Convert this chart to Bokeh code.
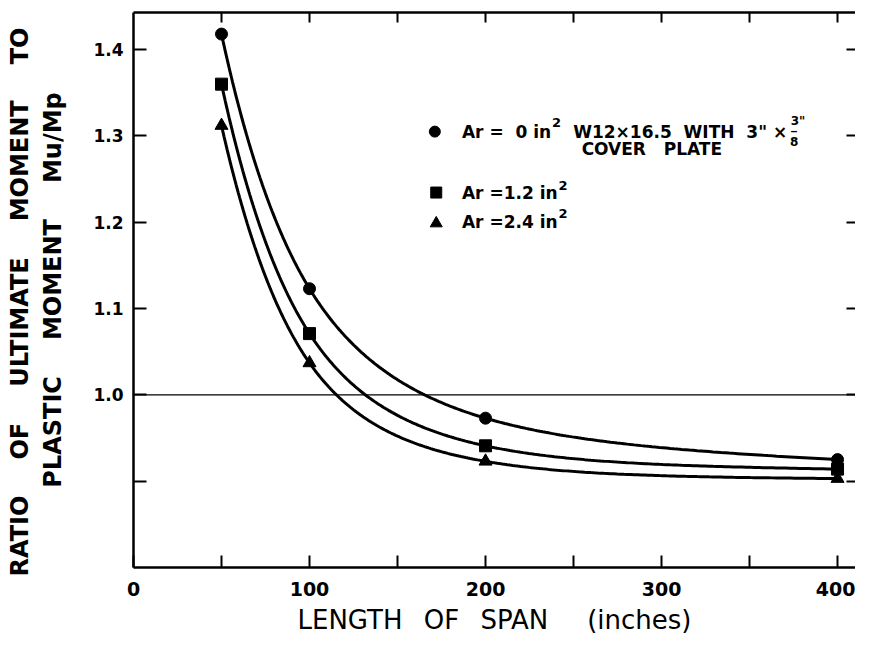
import numpy as np
from bokeh.plotting import figure
from bokeh.models import Range1d, FixedTicker, LinearAxis, Span, Label, NumeralTickFormatter
from bokeh.embed import file_html
from bokeh.resources import INLINE

# ---- data ----
span_in = [50, 100, 200, 400]
ratio_ar0 = [1.418, 1.123, 0.973, 0.925]
ratio_ar12 = [1.360, 1.071, 0.941, 0.914]
ratio_ar24 = [1.312, 1.037, 0.923, 0.903]

x_ticks = [0, 50, 100, 150, 200, 250, 300, 350, 400]
x_tick_labels = {50: "", 150: "", 250: "", 350: ""}
y_ticks = [0.9, 1.0, 1.1, 1.2, 1.3, 1.4]
y_tick_labels = {0.9: ""}

FONT = "DejaVu Sans"
BLACK = "#000000"
EN = "\u2002"
NB = "\u00a0"

x_title = "LENGTH" + EN + NB + "OF" + EN + NB + "SPAN" + EN * 3 + "(inches)"
y_title = ("RATIO" + EN * 3 + "OF" + EN * 3 + "ULTIMATE" + EN * 3 + "MOMENT" + EN * 3 + "TO" + EN * 2
           + "\n" + "PLASTIC" + EN * 3 + "MOMENT" + EN * 3 + "Mu/Mp")


def natural_spline(xs, ys, xq):
    xs = np.asarray(xs, float)
    ys = np.asarray(ys, float)
    n = len(xs)
    h = np.diff(xs)
    A = np.zeros((n, n))
    r = np.zeros(n)
    A[0, 0] = 1.0
    A[-1, -1] = 1.0
    for i in range(1, n - 1):
        A[i, i - 1] = h[i - 1]
        A[i, i] = 2 * (h[i - 1] + h[i])
        A[i, i + 1] = h[i]
        r[i] = 6 * ((ys[i + 1] - ys[i]) / h[i] - (ys[i] - ys[i - 1]) / h[i - 1])
    M = np.linalg.solve(A, r)
    idx = np.clip(np.searchsorted(xs, xq) - 1, 0, n - 2)
    x0 = xs[idx]
    x1 = xs[idx + 1]
    hh = x1 - x0
    t0 = x1 - xq
    t1 = xq - x0
    return (M[idx] * t0 ** 3 / (6 * hh) + M[idx + 1] * t1 ** 3 / (6 * hh)
            + (ys[idx] / hh - M[idx] * hh / 6) * t0
            + (ys[idx + 1] / hh - M[idx + 1] * hh / 6) * t1)


p = figure(width=855, height=637, output_backend="svg", toolbar_location=None,
           x_range=Range1d(0, 410.2), y_range=Range1d(0.8, 1.443),
           x_axis_location=None, y_axis_location=None,
           min_border_left=133, min_border_right=0, min_border_top=12, min_border_bottom=69)
p.outline_line_color = None
p.xgrid.visible = False
p.ygrid.visible = False
p.background_fill_color = "white"
p.border_fill_color = "white"

# bottom axis
xb = LinearAxis(ticker=FixedTicker(ticks=x_ticks), major_label_overrides=x_tick_labels)
xb.axis_label = x_title
xb.axis_label_text_font = FONT
xb.axis_label_text_font_size = "26px"
xb.axis_label_text_font_style = "normal"
xb.axis_label_text_color = BLACK
xb.axis_label_standoff = 6
xb.major_label_text_font = FONT
xb.major_label_text_font_size = "19px"
xb.major_label_text_font_style = "bold"
xb.major_label_text_color = BLACK
xb.major_label_standoff = 14
xb.major_tick_in = 12
xb.major_tick_out = 0
xb.major_tick_line_width = 2
xb.minor_tick_line_color = None
xb.axis_line_width = 2.5
xb.axis_line_color = BLACK
p.add_layout(xb, "below")

# left axis
yl = LinearAxis(ticker=FixedTicker(ticks=y_ticks), formatter=NumeralTickFormatter(format="0.0"),
                major_label_overrides=y_tick_labels)
yl.axis_label = y_title
yl.axis_label_text_font = FONT
yl.axis_label_text_font_size = "24px"
yl.axis_label_text_font_style = "bold"
yl.axis_label_text_color = BLACK
yl.axis_label_standoff = 23
yl.major_label_text_font = FONT
yl.major_label_text_font_size = "17px"
yl.major_label_text_font_style = "bold"
yl.major_label_text_color = BLACK
yl.major_label_standoff = 10
yl.major_tick_in = 13
yl.major_tick_out = 0
yl.major_tick_line_width = 2
yl.minor_tick_line_color = None
yl.axis_line_width = 2.5
yl.axis_line_color = BLACK
p.add_layout(yl, "left")

# top axis (ticks only)
xt = LinearAxis(ticker=FixedTicker(ticks=x_ticks[1:]))
xt.major_label_text_font_size = "1px"
xt.major_label_text_color = None
xt.major_label_standoff = 0
xt.major_tick_in = 10
xt.major_tick_out = 0
xt.major_tick_line_width = 2
xt.minor_tick_line_color = None
xt.axis_line_width = 2.5
xt.axis_line_color = BLACK
p.add_layout(xt, "above")

# right axis (ticks only, border off-page)
yr = LinearAxis(ticker=FixedTicker(ticks=y_ticks))
yr.major_label_text_font_size = "1px"
yr.major_label_text_color = None
yr.major_label_standoff = 0
yr.major_tick_in = 9
yr.major_tick_out = 0
yr.major_tick_line_width = 2
yr.minor_tick_line_color = None
yr.axis_line_color = None
p.add_layout(yr, "right")

# reference line at 1.0
p.add_layout(Span(location=1.0, dimension="width", line_color=BLACK, line_width=1.4))

# curves
xs_log = np.log(np.asarray(span_in, float))
xq_log = np.linspace(xs_log[0], xs_log[-1], 300)
for ys in (ratio_ar0, ratio_ar12, ratio_ar24):
    yq = natural_spline(xs_log, ys, xq_log)
    p.line(np.exp(xq_log), yq, line_color=BLACK, line_width=3)

p.scatter(span_in, ratio_ar0, marker="circle", size=12, fill_color=BLACK, line_color=BLACK)
p.scatter(span_in, ratio_ar12, marker="square", size=12, fill_color=BLACK, line_color=BLACK)
p.scatter(span_in, ratio_ar24, marker="triangle", size=13, fill_color=BLACK, line_color=BLACK)

# legend (custom)
leg_x = 172.0
p.scatter([leg_x - 0.8], [1.305], marker="circle", size=11, fill_color=BLACK, line_color=BLACK)
p.scatter([leg_x], [1.2344], marker="square", size=11, fill_color=BLACK, line_color=BLACK)
p.scatter([leg_x], [1.1987], marker="triangle", size=12, fill_color=BLACK, line_color=BLACK)


def lab(x, y, text, size="17px", style="bold", align="left"):
    p.add_layout(Label(x=x, y=y, text=text, text_font=FONT, text_font_size=size,
                       text_font_style=style, text_color=BLACK, text_align=align,
                       text_baseline="middle"))


lab(186.6, 1.305, "Ar" + NB + "=" + NB + NB + "0" + NB + "in")
lab(240.3, 1.316, "2", size="13px", align="center")
lab(249.8, 1.305, "W12\u00d716.5" + NB + NB + "WITH" + NB + NB + "3\"" + NB + "\u00d7")
lab(373.4, 1.317, "3\"", size="12px")
lab(375.3, 1.305, "\u2012", size="10px", align="center")
lab(375.3, 1.293, "8", size="12px", align="center")
lab(254.6, 1.2844, "COVER" + NB * 3 + "PLATE")
lab(186.6, 1.2344, "Ar" + NB + "=1.2" + NB + "in")
lab(244.0, 1.2425, "2", size="13px", align="center")
lab(186.6, 1.2005, "Ar" + NB + "=2.4" + NB + "in")
lab(244.0, 1.2103, "2", size="13px", align="center")

open("out.html", "w").write(file_html(p, INLINE))
